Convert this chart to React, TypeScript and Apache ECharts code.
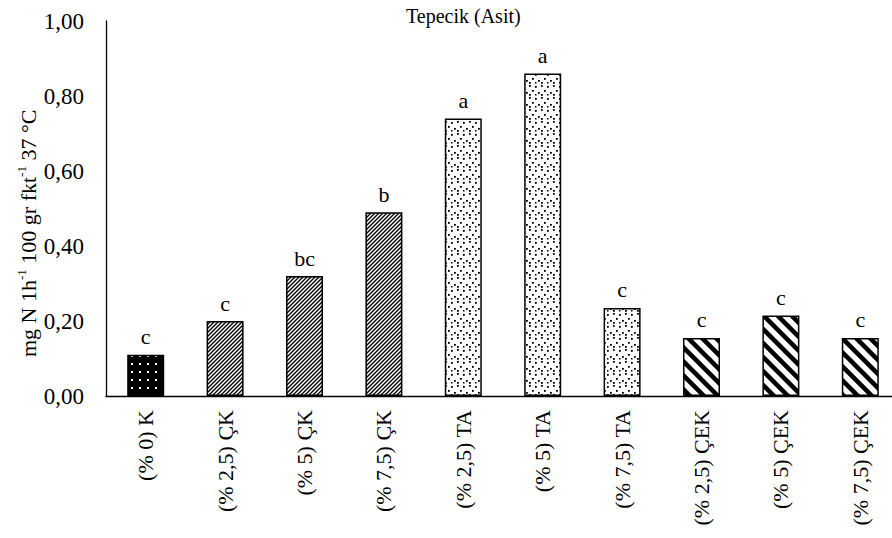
import React, { useEffect, useRef } from "react";
import * as echarts from "echarts";

const categories = [
  "(% 0) K",
  "(% 2,5) ÇK",
  "(% 5) ÇK",
  "(% 7,5) ÇK",
  "(% 2,5) TA",
  "(% 5) TA",
  "(% 7,5) TA",
  "(% 2,5) ÇEK",
  "(% 5) ÇEK",
  "(% 7,5) ÇEK",
];
const values = [0.11, 0.2, 0.32, 0.49, 0.74, 0.86, 0.235, 0.155, 0.215, 0.155];
const letters = ["c", "c", "bc", "b", "a", "a", "c", "c", "c", "c"];
const patternKinds = ["blackDots", "hatch", "hatch", "hatch", "dots", "dots", "dots", "stripes", "stripes", "stripes"];
const yTicks = { min: 0, max: 1, interval: 0.2 };
const yName = "{n|mg N 1h}{s|-1}{n| 100 gr fkt}{s|-1}{n| 37 °C}";

const FONT = "Liberation Serif";

function makeTile(kind: string) {
  const c = document.createElement("canvas");
  let w = 8, h = 8;
  if (kind === "blackDots") { w = 8; h = 8; }
  if (kind === "hatch") { w = 4; h = 4; }
  if (kind === "dots") { w = 12; h = 12; }
  if (kind === "stripes") { w = 14; h = 14; }
  c.width = w; c.height = h;
  const g = c.getContext("2d")!;
  if (kind === "blackDots") {
    g.fillStyle = "#000"; g.fillRect(0, 0, w, h);
    g.fillStyle = "#fff"; g.fillRect(3, 3, 2, 2);
  } else if (kind === "hatch") {
    g.fillStyle = "#fff"; g.fillRect(0, 0, w, h);
    g.strokeStyle = "#000"; g.lineWidth = 1.4;
    g.beginPath();
    g.moveTo(-1, h + 1); g.lineTo(w + 1, -1);
    g.moveTo(-1, 1); g.lineTo(1, -1);
    g.moveTo(w - 1, h + 1); g.lineTo(w + 1, h - 1);
    g.stroke();
  } else if (kind === "dots") {
    g.fillStyle = "#fff"; g.fillRect(0, 0, w, h);
    g.fillStyle = "#000";
    g.fillRect(1, 1, 1.8, 1.8);
    g.fillRect(7, 2, 1.8, 1.8);
    g.fillRect(4, 6, 1.8, 1.8);
    g.fillRect(10, 8, 1.8, 1.8);
    g.fillRect(1, 10, 1.8, 1.8);
    g.fillRect(7, 10, 1.5, 1.5);
  } else {
    g.fillStyle = "#fff"; g.fillRect(0, 0, w, h);
    g.strokeStyle = "#000"; g.lineWidth = 4.5;
    g.beginPath();
    g.moveTo(-2, -2); g.lineTo(w + 2, h + 2);
    g.moveTo(-2, h - 2); g.lineTo(2, h + 2);
    g.moveTo(w - 2, -2); g.lineTo(w + 2, 2);
    g.stroke();
  }
  return { image: c.toDataURL(), repeat: "repeat", imageWidth: w, imageHeight: h };
}

export default function App() {
  const ref = useRef<HTMLDivElement>(null);
  useEffect(() => {
    const chart = echarts.init(ref.current!, null, { renderer: "svg" });
    const data = values.map((v, i) => ({
      value: v,
      itemStyle: { color: makeTile(patternKinds[i]) as any },
      label: { formatter: letters[i] },
    }));
    chart.setOption({
      animation: false,
      backgroundColor: "#fff",
      textStyle: { fontFamily: FONT },
      title: {
        text: "Tepecik (Asit)",
        left: 401,
        top: 1,
        textStyle: { fontFamily: FONT, fontSize: 20, fontWeight: "normal", color: "#000" },
      },
      graphic: [
        {
          type: "text",
          x: 27,
          y: 357,
          rotation: Math.PI / 2,
          style: {
            text: yName,
            align: "left",
            verticalAlign: "middle",
            fill: "#000",
            fontFamily: FONT,
            fontSize: 22,
            rich: {
              n: { fontFamily: FONT, fontSize: 22, lineHeight: 24, fill: "#000", verticalAlign: "bottom" },
              s: { fontFamily: FONT, fontSize: 13, lineHeight: 24, fill: "#000", verticalAlign: "top" },
            },
          },
        },
      ],
      grid: { left: 106, width: 794, top: 21, bottom: 142, containLabel: false, outerBoundsMode: "none" },
      xAxis: {
        type: "category",
        data: categories,
        axisLine: { lineStyle: { color: "#000", width: 1.3 } },
        axisTick: { show: false },
        axisLabel: { rotate: 90, margin: 14, fontFamily: FONT, fontSize: 22, color: "#000", interval: 0 },
      },
      yAxis: {
        type: "value",
        min: yTicks.min,
        max: yTicks.max,
        interval: yTicks.interval,
        splitLine: { show: false },
        axisTick: { show: false },
        axisLine: { show: true, lineStyle: { color: "#000", width: 1.3 } },
        axisLabel: {
          margin: 22,
          fontFamily: FONT,
          fontSize: 23,
          color: "#000",
          formatter: (v: number) => v.toFixed(2).replace(".", ","),
        },
      },
      series: [
        {
          type: "bar",
          data,
          barWidth: 37,
          itemStyle: { borderColor: "#000", borderWidth: 1.5 },
          label: {
            show: true,
            position: "top",
            distance: 7,
            fontFamily: FONT,
            fontSize: 22,
            color: "#000",
          },
        },
      ],
    });
    return () => chart.dispose();
  }, []);
  return <div ref={ref} style={{ width: 892, height: 538, position: "absolute", left: 0, top: 0 }} />;
}
